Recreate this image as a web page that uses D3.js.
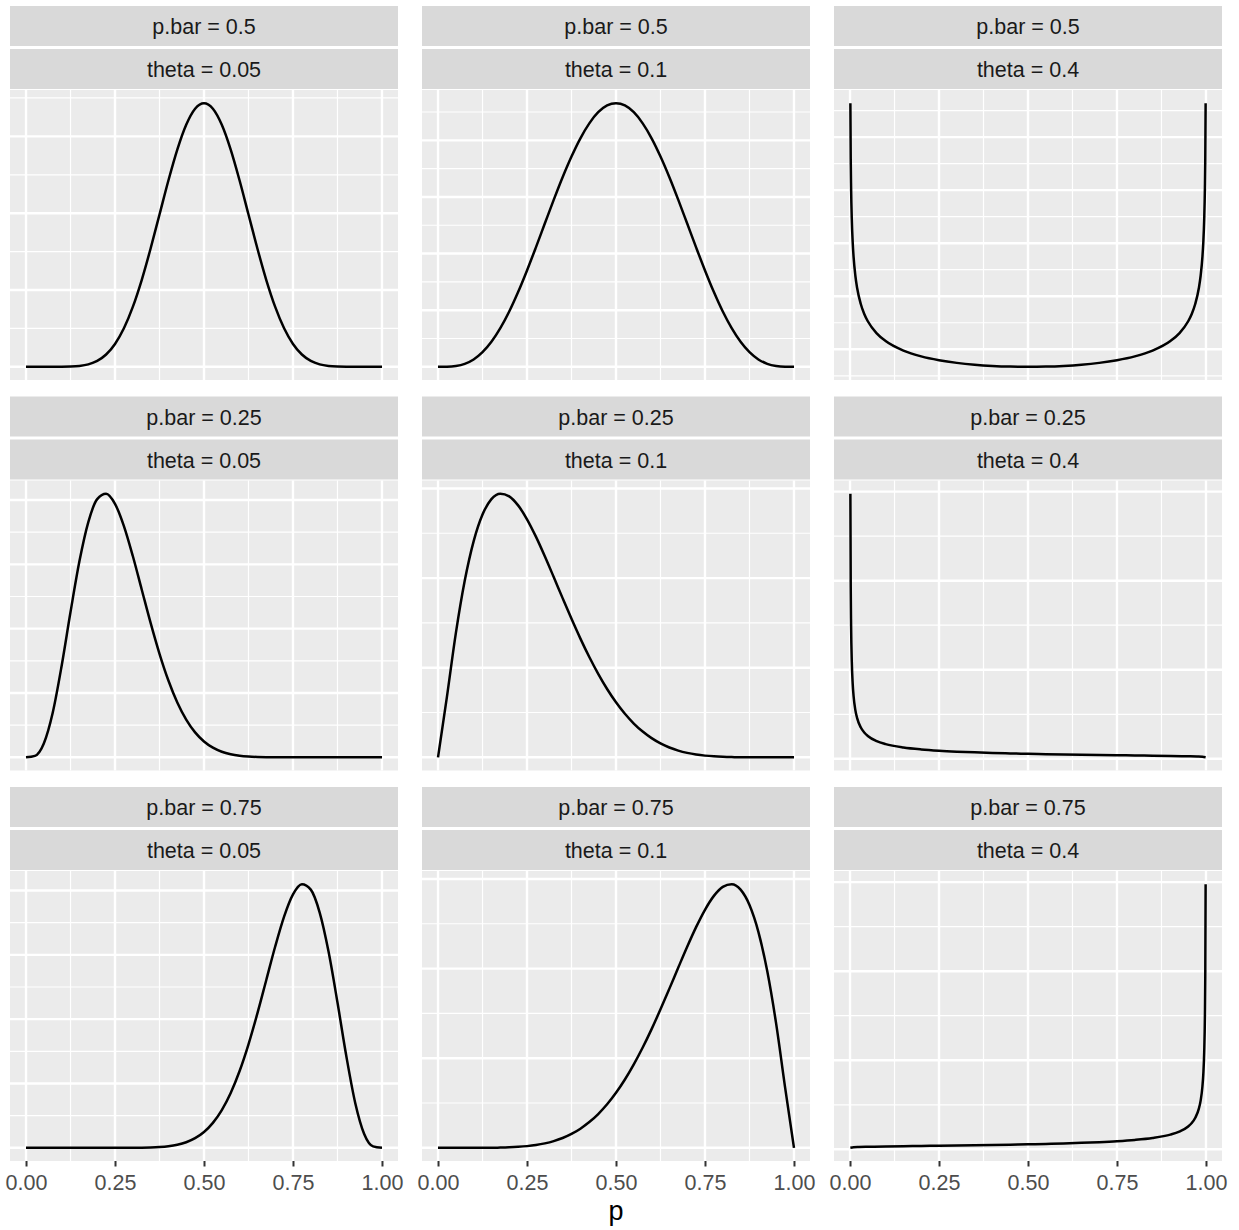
<!DOCTYPE html>
<html>
<head>
<meta charset="utf-8">
<script src="https://cdn.jsdelivr.net/npm/d3@7"></script>
<style>
  body { margin: 0; background: #fff; }
  svg { display: block; font-family: "Liberation Sans", Arial, sans-serif; }
</style>
</head>
<body>
<div id="chart"></div>
<script>
// ==== facet labels ====
const pBarLevels  = ["0.5", "0.25", "0.75"];
const thetaLevels = ["0.05", "0.1", "0.4"];

// ==== x positions of the curves (p) ====
const pSmooth = [0, 0.025, 0.05, 0.075, 0.1, 0.125, 0.15, 0.175, 0.2, 0.225, 0.25, 0.275, 0.3,
  0.325, 0.35, 0.375, 0.4, 0.425, 0.45, 0.475, 0.5, 0.525, 0.55, 0.575, 0.6, 0.625, 0.65,
  0.675, 0.7, 0.725, 0.75, 0.775, 0.8, 0.825, 0.85, 0.875, 0.9, 0.925, 0.95, 0.975, 1];
const pBoth = [0.001, 0.002, 0.003, 0.005, 0.0075, 0.01, 0.015, 0.02, 0.03, 0.04, 0.05, 0.075,
  0.1, 0.15, 0.2, 0.25, 0.3, 0.35, 0.4, 0.45, 0.5, 0.55, 0.6, 0.65, 0.7, 0.75, 0.8, 0.85, 0.9,
  0.925, 0.95, 0.96, 0.97, 0.98, 0.985, 0.99, 0.9925, 0.995, 0.997, 0.998, 0.999];
const pLeft = [0.001, 0.002, 0.003, 0.005, 0.0075, 0.01, 0.015, 0.02, 0.03, 0.04, 0.05, 0.075,
  0.1, 0.15, 0.2, 0.25, 0.3, 0.35, 0.4, 0.45, 0.5, 0.55, 0.6, 0.65, 0.7, 0.75, 0.8, 0.85, 0.9,
  0.95, 0.975, 0.99, 0.999];
const pRight = [0.001, 0.01, 0.025, 0.05, 0.1, 0.15, 0.2, 0.25, 0.3, 0.35, 0.4, 0.45, 0.5, 0.55,
  0.6, 0.65, 0.7, 0.75, 0.8, 0.85, 0.9, 0.925, 0.95, 0.96, 0.97, 0.98, 0.985, 0.99, 0.9925,
  0.995, 0.997, 0.998, 0.999];

// ==== density values ====
const dens_50_005 = [0, 0, 0.00001, 0.00006, 0.00058, 0.00305, 0.0112, 0.0323, 0.0773, 0.1606,
  0.2975, 0.5015, 0.780, 1.130, 1.540, 1.983, 2.426, 2.828, 3.151, 3.360, 3.432, 3.360, 3.151,
  2.828, 2.426, 1.983, 1.540, 1.130, 0.780, 0.5015, 0.2975, 0.1606, 0.0773, 0.0323, 0.0112,
  0.00305, 0.00058, 0.00006, 0.00001, 0, 0];
const dens_50_010 = [0, 0.00067, 0.00696, 0.0262, 0.0652, 0.129, 0.2205, 0.341, 0.488, 0.660,
  0.851, 1.055, 1.265, 1.474, 1.674, 1.857, 2.018, 2.150, 2.248, 2.308, 2.328, 2.308, 2.248,
  2.150, 2.018, 1.857, 1.674, 1.474, 1.265, 1.055, 0.851, 0.660, 0.488, 0.341, 0.2205, 0.129,
  0.0652, 0.0262, 0.00696, 0.00067, 0];
const dens_50_040 = [3.320, 2.792, 2.524, 2.222, 2.009, 1.871, 1.693, 1.577, 1.429, 1.333, 1.264,
  1.150, 1.0775, 0.9877, 0.9331, 0.8969, 0.8718, 0.8545, 0.8432, 0.8367, 0.8346, 0.8367, 0.8432,
  0.8545, 0.8718, 0.8969, 0.9331, 0.9877, 1.0775, 1.150, 1.264, 1.333, 1.429, 1.577, 1.693,
  1.871, 2.009, 2.222, 2.524, 2.792, 3.320];
const dens_25_005 = [0, 0.0227, 0.2161, 0.6943, 1.4204, 2.2579, 3.0468, 3.6571, 4.0134, 4.0986,
  3.9404, 3.5948, 3.1294, 2.6094, 2.0896, 1.6096, 1.1938, 0.8526, 0.5862, 0.3876, 0.2462,
  0.1498, 0.0871, 0.0483, 0.0254, 0.0126, 0.0058, 0.0025, 0.0010, 0.0004, 0.0001, 0, 0, 0, 0,
  0, 0, 0, 0, 0, 0];
const dens_25_010 = [0, 0.6751, 1.3829, 1.9694, 2.4103, 2.7094, 2.8805, 2.9417, 2.9123, 2.8112,
  2.6559, 2.4621, 2.2434, 2.0116, 1.7763, 1.5454, 1.3247, 1.1188, 0.9306, 0.7620, 0.6137,
  0.4857, 0.3772, 0.2871, 0.2137, 0.1551, 0.1096, 0.0750, 0.0496, 0.0314, 0.0189, 0.0108,
  0.0057, 0.0027, 0.0012, 0.0004, 0.0001, 0, 0, 0, 0];
const dens_25_040 = [29.77, 19.30, 14.98, 10.89, 8.444, 7.051, 5.469, 4.566, 3.540, 2.953, 2.565,
  1.9845, 1.6522, 1.2733, 1.0557, 0.9109, 0.8058, 0.7251, 0.6604, 0.6069, 0.5614, 0.5221,
  0.4873, 0.4558, 0.4269, 0.3996, 0.3733, 0.3467, 0.3180, 0.2819, 0.2546, 0.2247, 0.1675];
const dens_75_005 = [0, 0, 0, 0, 0, 0, 0, 0, 0, 0, 0.0001, 0.0004, 0.0010, 0.0025, 0.0058,
  0.0126, 0.0254, 0.0483, 0.0871, 0.1498, 0.2462, 0.3876, 0.5862, 0.8526, 1.1938, 1.6096,
  2.0896, 2.6094, 3.1294, 3.5948, 3.9404, 4.0986, 4.0134, 3.6571, 3.0468, 2.2579, 1.4204,
  0.6943, 0.2161, 0.0227, 0];
const dens_75_010 = [0, 0, 0, 0, 0.0001, 0.0004, 0.0012, 0.0027, 0.0057, 0.0108, 0.0189, 0.0314,
  0.0496, 0.0750, 0.1096, 0.1551, 0.2137, 0.2871, 0.3772, 0.4857, 0.6137, 0.7620, 0.9306,
  1.1188, 1.3247, 1.5454, 1.7763, 2.0116, 2.2434, 2.4621, 2.6559, 2.8112, 2.9123, 2.9417,
  2.8805, 2.7094, 2.4103, 1.9694, 1.3829, 0.6751, 0];
const dens_75_040 = [0.1675, 0.2247, 0.2546, 0.2819, 0.3180, 0.3467, 0.3733, 0.3996, 0.4269,
  0.4558, 0.4873, 0.5221, 0.5614, 0.6069, 0.6604, 0.7251, 0.8058, 0.9109, 1.0557, 1.2733,
  1.6522, 1.9845, 2.565, 2.953, 3.540, 4.566, 5.469, 7.051, 8.444, 10.89, 14.98, 19.30, 29.77];

// ==== y breaks (free scales, one set per panel) ====
const yBreaks_50_005 = [0, 1, 2, 3];
const yBreaks_50_010 = [0, 0.5, 1, 1.5, 2];
const yBreaks_50_040 = [1, 1.5, 2, 2.5, 3];
const yBreaks_25_005 = [0, 1, 2, 3, 4];
const yBreaks_25_010 = [0, 1, 2, 3];
const yBreaks_25_040 = [0, 10, 20, 30];
const yBreaks_75_005 = [0, 1, 2, 3, 4];
const yBreaks_75_010 = [0, 1, 2, 3];
const yBreaks_75_040 = [0, 10, 20, 30];

// ==== x breaks ====
const xBreaks = [0, 0.25, 0.5, 0.75, 1];
const xLabel = "p";

// facet table built from the arrays above (row = p.bar, col = theta)
const panels = [
  { row: 0, col: 0, p: pSmooth, d: dens_50_005, br: yBreaks_50_005 },
  { row: 0, col: 1, p: pSmooth, d: dens_50_010, br: yBreaks_50_010 },
  { row: 0, col: 2, p: pBoth,   d: dens_50_040, br: yBreaks_50_040 },
  { row: 1, col: 0, p: pSmooth, d: dens_25_005, br: yBreaks_25_005 },
  { row: 1, col: 1, p: pSmooth, d: dens_25_010, br: yBreaks_25_010 },
  { row: 1, col: 2, p: pLeft,   d: dens_25_040, br: yBreaks_25_040 },
  { row: 2, col: 0, p: pSmooth, d: dens_75_005, br: yBreaks_75_005 },
  { row: 2, col: 1, p: pSmooth, d: dens_75_010, br: yBreaks_75_010 },
  { row: 2, col: 2, p: pRight,  d: dens_75_040, br: yBreaks_75_040 }
];

// ==== layout ====
const W = 1239, H = 1230;
const colLeft = [10, 422, 834];
const rowTop  = [6, 396.5, 787];
const panelW = 388, panelH = 290;
const stripH = 40, stripGap = 3;
const panelOffset = 2 * stripH + stripGap + 1;

const svg = d3.select("#chart")
  .append("svg")
    .attr("width", W)
    .attr("height", H);

// minor breaks like ggplot: midpoints of majors, extended one step each side
function minorBreaks(br, lo, hi) {
  const step = br.length > 1 ? br[1] - br[0] : 1;
  const ext = [br[0] - step, ...br, br[br.length - 1] + step];
  const out = [];
  for (let i = 0; i < ext.length - 1; i++) {
    const m = (ext[i] + ext[i + 1]) / 2;
    if (m >= lo && m <= hi) out.push(m);
  }
  return out;
}

panels.forEach(pn => {
  const left = colLeft[pn.col];
  const top  = rowTop[pn.row] + panelOffset;
  const g = svg.append("g");

  // strips
  const labels = ["p.bar = " + pBarLevels[pn.row], "theta = " + thetaLevels[pn.col]];
  labels.forEach((lab, i) => {
    const sy = rowTop[pn.row] + i * (stripH + stripGap);
    g.append("rect")
      .attr("x", left).attr("y", sy)
      .attr("width", panelW).attr("height", stripH)
      .attr("fill", "#d9d9d9");
    g.append("text")
      .attr("x", left + panelW / 2)
      .attr("y", sy + 28)
      .attr("text-anchor", "middle")
      .attr("font-size", "21.5px")
      .attr("fill", "#1a1a1a")
      .text(lab);
  });

  // scales
  const x = d3.scaleLinear().domain([-0.045, 1.045]).range([left, left + panelW]);
  const [lo, hi] = d3.extent(pn.d);
  const pad = (hi - lo) * 0.05;
  const y = d3.scaleLinear().domain([lo - pad, hi + pad]).range([top + panelH, top]);
  const yDom = y.domain();

  g.append("rect")
    .attr("x", left).attr("y", top)
    .attr("width", panelW).attr("height", panelH)
    .attr("fill", "#ebebeb");

  // minor grid
  const xMinor = minorBreaks(xBreaks, -0.045, 1.045);
  const yMajor = pn.br.filter(v => v >= yDom[0] && v <= yDom[1]);
  const yMinor = minorBreaks(pn.br, yDom[0], yDom[1]);

  g.selectAll(".xminor").data(xMinor).enter().append("line")
    .attr("x1", d => x(d)).attr("x2", d => x(d))
    .attr("y1", top).attr("y2", top + panelH)
    .attr("stroke", "#fff").attr("stroke-width", 1.2);
  g.selectAll(".yminor").data(yMinor).enter().append("line")
    .attr("x1", left).attr("x2", left + panelW)
    .attr("y1", d => y(d)).attr("y2", d => y(d))
    .attr("stroke", "#fff").attr("stroke-width", 1.2);

  // major grid
  g.selectAll(".xmajor").data(xBreaks).enter().append("line")
    .attr("x1", d => x(d)).attr("x2", d => x(d))
    .attr("y1", top).attr("y2", top + panelH)
    .attr("stroke", "#fff").attr("stroke-width", 2.4);
  g.selectAll(".ymajor").data(yMajor).enter().append("line")
    .attr("x1", left).attr("x2", left + panelW)
    .attr("y1", d => y(d)).attr("y2", d => y(d))
    .attr("stroke", "#fff").attr("stroke-width", 2.4);

  // curve
  const pts = pn.p.map((v, i) => [v, pn.d[i]]);
  const line = d3.line()
    .x(d => x(d[0]))
    .y(d => y(d[1]))
    .curve(d3.curveMonotoneX);
  g.append("path")
    .attr("d", line(pts))
    .attr("fill", "none")
    .attr("stroke", "#000")
    .attr("stroke-width", 2.5)
    .attr("stroke-linejoin", "round");

  // x axis only on the bottom row
  if (pn.row === 2) {
    const axis = g.append("g")
      .attr("transform", `translate(0,${top + panelH})`)
      .call(d3.axisBottom(x).tickValues(xBreaks).tickSize(5.5).tickPadding(8).tickFormat(d3.format(".2f")));
    axis.select(".domain").remove();
    axis.selectAll(".tick line").attr("stroke", "#333").attr("stroke-width", 2);
    axis.selectAll(".tick text")
      .attr("fill", "#4d4d4d")
      .attr("font-size", "21.5px")
      .attr("font-family", "Liberation Sans, Arial, sans-serif");
  }
});

// axis title
svg.append("text")
  .attr("x", (colLeft[0] + colLeft[2] + panelW) / 2)
  .attr("y", 1220)
  .attr("text-anchor", "middle")
  .attr("font-size", "27px")
  .attr("fill", "#000")
  .text(xLabel);
</script>
</body>
</html>
